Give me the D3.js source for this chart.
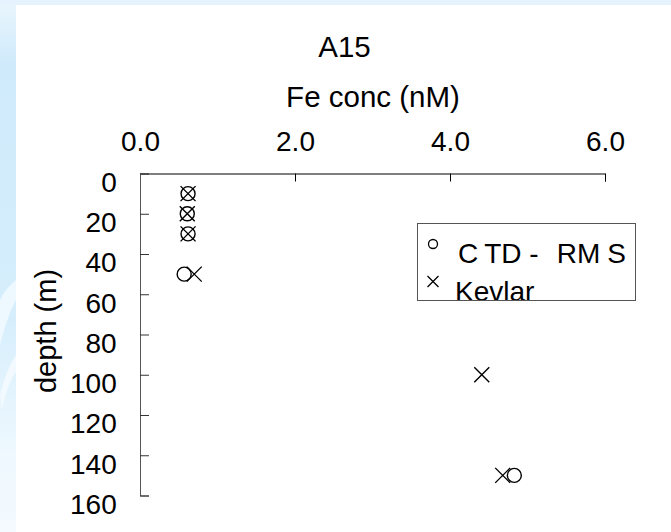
<!doctype html>
<html>
<head>
<meta charset="utf-8">
<title>A15</title>
<style>
* {padding:0;margin:0}
body {background:#fff}
svg text {font-family:"Liberation Sans", Arial, sans-serif; fill:#000}
</style>
</head>
<body>
<div id="chart"></div>
<script src="https://d3js.org/d3.v7.min.js"></script>
<script>

	// valeurs
	const ctdDepth = [10, 20, 30, 50, 150];
	const ctdFe = [0.62, 0.61, 0.62, 0.57, 4.83];
	const kevlarDepth = [10, 20, 30, 50, 100, 150];
	const kevlarFe = [0.62, 0.61, 0.62, 0.70, 4.41, 4.68];
	const xTicks = [0, 2, 4, 6];
	const yTicks = [0, 20, 40, 60, 80, 100, 120, 140, 160];

	const W = 671, H = 532;
	const plotLeft = 140, plotRight = 605, plotTop = 173.5, plotBottom = 495.5;

	const svg = d3.select("#chart").append("svg")
		.attr("width", W)
		.attr("height", H);

	// fond bleu clair
	const defs = svg.append("defs");
	const grad = defs.append("linearGradient").attr("id", "bg").attr("x1", 0).attr("y1", 0).attr("x2", 0).attr("y2", 1);
	grad.append("stop").attr("offset", "0").attr("stop-color", "#eaf6fd");
	grad.append("stop").attr("offset", "0.12").attr("stop-color", "#cfeafb");
	grad.append("stop").attr("offset", "0.6").attr("stop-color", "#d6eefc");
	grad.append("stop").attr("offset", "0.85").attr("stop-color", "#eef8fe");
	grad.append("stop").attr("offset", "1").attr("stop-color", "#f4faff");
	svg.append("rect").attr("width", W).attr("height", H).attr("fill", "url(#bg)");
	svg.append("rect").attr("width", W).attr("height", 5).attr("fill", "#e4f3fd");
	// vagues blanches a gauche
	svg.append("path")
		.attr("d", "M0,300 C5,290 10,285 16,280 L16,300 C10,310 4,330 0,345 Z")
		.attr("fill", "#f3faff").attr("opacity", 0.8);
	svg.append("path")
		.attr("d", "M0,395 C4,380 9,365 16,355 L16,372 C10,380 5,395 2,410 Z")
		.attr("fill", "#f6fbff").attr("opacity", 0.8);
	svg.append("rect").attr("x", 16).attr("y", 5).attr("width", W - 16).attr("height", H - 5).attr("fill", "#fff");

	const x = d3.scaleLinear().domain([0, 6]).range([plotLeft, plotRight]);
	const y = d3.scaleLinear().domain([0, 160]).range([plotTop, plotBottom]);

	// axe du haut
	const gx = svg.append("g")
		.attr("transform", "translate(0," + plotTop + ")")
		.call(d3.axisTop(x).tickValues(xTicks).tickFormat(d3.format(".1f"))
			.tickSizeInner(-8).tickSizeOuter(-8).tickPadding(22.5));
	gx.select(".domain").attr("stroke", "#000");
	gx.selectAll(".tick line").attr("stroke", "#000");
	gx.selectAll("text").style("font-size", "28px").attr("fill", "#000");

	// axe de gauche
	const gy = svg.append("g")
		.attr("transform", "translate(" + plotLeft + ",0)")
		.call(d3.axisLeft(y).tickValues(yTicks).tickSizeInner(-9).tickSizeOuter(-9).tickPadding(23.3));
	gy.select(".domain").attr("stroke", "#555");
	gy.selectAll(".tick line").attr("stroke", "#333");
	gy.selectAll("text").style("font-size", "28px").attr("fill", "#000").attr("dy", "0.64em");

	// titres
	svg.append("text").attr("x", 344.5).attr("y", 57).attr("text-anchor", "middle")
		.style("font-size", "29.5px").text("A15");
	svg.append("text").attr("x", 373).attr("y", 107).attr("text-anchor", "middle")
		.style("font-size", "29.5px").text("Fe conc (nM)");
	svg.append("text").attr("transform", "translate(56,331) rotate(-90)").attr("text-anchor", "middle")
		.style("font-size", "29px").text("depth (m)");

	function cross(cx, cy, s) {
		return "M" + (cx - s) + "," + (cy - s) + "L" + (cx + s) + "," + (cy + s) +
			"M" + (cx + s) + "," + (cy - s) + "L" + (cx - s) + "," + (cy + s);
	}

	const ctd = ctdDepth.map(function(d, i) { return {depth: d, fe: ctdFe[i]}; });
	const kev = kevlarDepth.map(function(d, i) { return {depth: d, fe: kevlarFe[i]}; });

	svg.selectAll("circle.ctd").data(ctd).enter()
		.append("circle")
		.attr("class", "ctd")
		.attr("cx", function(d) { return x(d.fe); })
		.attr("cy", function(d) { return y(d.depth); })
		.attr("r", 7)
		.attr("fill", "none")
		.attr("stroke", "#000")
		.attr("stroke-width", 1.4);

	svg.selectAll("path.kev").data(kev).enter()
		.append("path")
		.attr("class", "kev")
		.attr("d", function(d) { return cross(x(d.fe), y(d.depth), 7.5); })
		.attr("fill", "none")
		.attr("stroke", "#000")
		.attr("stroke-width", 1.4);

	// legende
	const lx = 417.5, ly = 223.5, lw = 218, lh = 77;
	defs.append("clipPath").attr("id", "legclip")
		.append("rect").attr("x", lx).attr("y", ly).attr("width", lw).attr("height", lh);
	const leg = svg.append("g");
	leg.append("rect").attr("x", lx).attr("y", ly).attr("width", lw).attr("height", lh)
		.attr("fill", "#fff").attr("stroke", "#555").attr("stroke-width", 1);
	const legIn = leg.append("g").attr("clip-path", "url(#legclip)");
	legIn.append("circle").attr("cx", 433).attr("cy", 244).attr("r", 4.5)
		.attr("fill", "none").attr("stroke", "#000").attr("stroke-width", 1.3);
	const t1 = legIn.append("text").attr("x", 458).attr("y", 263).style("font-size", "28px");
	t1.append("tspan").text("C");
	t1.append("tspan").attr("dx", 6).text("TD -");
	t1.append("tspan").attr("dx", 18).text("RM");
	t1.append("tspan").attr("dx", 7).text("S");
	legIn.append("path").attr("d", cross(433, 281.5, 5.5))
		.attr("fill", "none").attr("stroke", "#000").attr("stroke-width", 1.3);
	legIn.append("text").attr("x", 455).attr("y", 301).style("font-size", "28px").text("Kevlar");
	leg.append("rect").attr("x", lx).attr("y", ly).attr("width", lw).attr("height", lh)
		.attr("fill", "none").attr("stroke", "#555").attr("stroke-width", 1);

</script>
</body>
</html>
